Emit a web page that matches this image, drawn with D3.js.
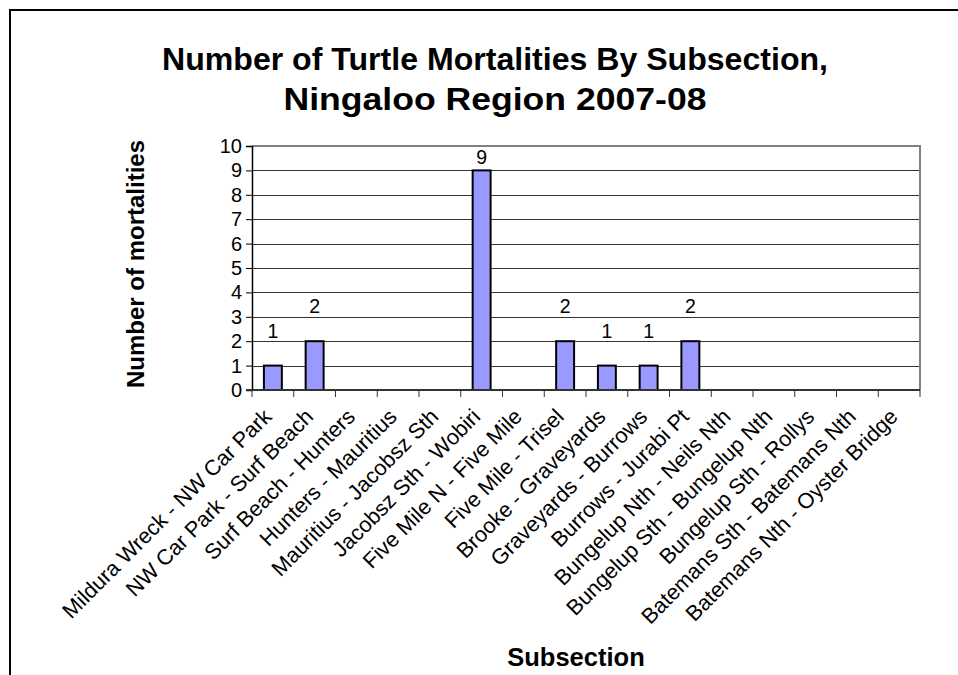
<!DOCTYPE html>
<html>
<head>
<meta charset="utf-8">
<script src="https://cdn.jsdelivr.net/npm/d3@7"></script>
<style>
  html, body { margin: 0; padding: 0; background: #fff; }
  svg { display: block; font-family: "Liberation Sans", Arial, sans-serif; }
</style>
</head>
<body>
<svg id="chart" width="958" height="675"></svg>
<script>
const categories = [
  "Mildura Wreck - NW Car Park",
  "NW Car Park - Surf Beach",
  "Surf Beach - Hunters",
  "Hunters - Mauritius",
  "Mauritius - Jacobsz Sth",
  "Jacobsz Sth - Wobiri",
  "Five Mile N - Five Mile",
  "Five Mile - Trisel",
  "Brooke - Graveyards",
  "Graveyards - Burrows",
  "Burrows - Jurabi Pt",
  "Bungelup Nth - Neils Nth",
  "Bungelup Sth - Bungelup Nth",
  "Bungelup Sth - Rollys",
  "Batemans Sth - Batemans Nth",
  "Batemans Nth - Oyster Bridge"
];
const mortalities = [1, 2, 0, 0, 0, 9, 0, 2, 1, 1, 2, 0, 0, 0, 0, 0];
const yTicks = [0, 1, 2, 3, 4, 5, 6, 7, 8, 9, 10];
const titleLines = ["Number of Turtle Mortalities By Subsection,", "Ningaloo Region 2007-08"];
const yTitle = "Number of mortalities";
const xTitle = "Subsection";

const svg = d3.select("#chart");
const pLeft = 252, pRight = 920, pTop = 146, pBottom = 390;

// outer frame
svg.append("rect").attr("x", 10).attr("y", 10).attr("width", 1000).attr("height", 1000)
  .attr("fill", "none").attr("stroke", "#000").attr("stroke-width", 2);

const x = d3.scaleBand().domain(categories).range([pLeft, pRight]).paddingInner(0.57).paddingOuter(0.285);
const xEdge = d3.scaleLinear().domain([0, categories.length]).range([pLeft, pRight]);
const y = d3.scaleLinear().domain([0, 10]).range([pBottom, pTop]);

// gridlines
svg.append("g").selectAll("line").data(yTicks.filter(d => d > 0 && d < 10)).join("line")
  .attr("x1", pLeft).attr("x2", pRight)
  .attr("y1", d => Math.round(y(d)) + 0.5).attr("y2", d => Math.round(y(d)) + 0.5)
  .attr("stroke", "#333").attr("stroke-width", 1);

// plot border top/right (gray)
svg.append("path")
  .attr("d", `M${pLeft},${pTop} H${pRight} V${pBottom}`)
  .attr("fill", "none").attr("stroke", "#808080").attr("stroke-width", 2);

const barData = categories.map((c, i) => ({c, v: mortalities[i]})).filter(d => d.v > 0);

// bars
svg.append("g").selectAll("rect").data(barData).join("rect")
  .attr("x", d => x(d.c)).attr("width", x.bandwidth())
  .attr("y", d => y(d.v)).attr("height", d => y(0) - y(d.v))
  .attr("fill", "#9999FF").attr("stroke", "#000").attr("stroke-width", 2);

// data labels
svg.append("g").selectAll("text").data(barData).join("text")
  .attr("x", d => x(d.c) + x.bandwidth() / 2)
  .attr("y", d => Math.max(y(d.v) - 28, pTop + 18))
  .attr("text-anchor", "middle").attr("font-size", 19.5).attr("fill", "#000")
  .text(d => d.v);

// y axis
const yAxis = d3.axisLeft(y).tickValues(yTicks).tickSize(6).tickPadding(4);
const gy = svg.append("g").attr("transform", `translate(${pLeft},0)`).call(yAxis);
gy.select(".domain").attr("stroke", "#000").attr("stroke-width", 1.5);
gy.selectAll(".tick line").attr("stroke", "#000");
gy.selectAll(".tick text").attr("font-size", 20).attr("fill", "#000")
  .attr("font-family", "Liberation Sans, Arial, sans-serif");

// x axis
const xAxisG = svg.append("g");
xAxisG.append("line").attr("x1", pLeft - 6).attr("x2", pRight).attr("y1", pBottom).attr("y2", pBottom)
  .attr("stroke", "#333").attr("stroke-width", 2);
xAxisG.selectAll("line.t").data(d3.range(categories.length + 1)).join("line").attr("class", "t")
  .attr("x1", d => xEdge(d)).attr("x2", d => xEdge(d))
  .attr("y1", pBottom).attr("y2", pBottom + 7)
  .attr("stroke", "#333").attr("stroke-width", 1);
xAxisG.selectAll("text").data(categories).join("text")
  .attr("transform", d => `translate(${x(d) + x.bandwidth() / 2},${pBottom + 28}) rotate(-45)`)
  .attr("text-anchor", "end").attr("font-size", 21.7).attr("fill", "#000")
  .text(d => d);

// titles
const titleWidths = [666, 423];
svg.append("g").selectAll("text").data(titleLines).join("text")
  .attr("x", 495).attr("y", (d, i) => 70 + i * 40)
  .attr("text-anchor", "middle").attr("font-size", 32).attr("font-weight", "bold")
  .attr("textLength", (d, i) => titleWidths[i]).attr("lengthAdjust", "spacingAndGlyphs")
  .text(d => d);

svg.append("text")
  .attr("transform", `translate(144,${(pTop + pBottom) / 2 - 4}) rotate(-90)`)
  .attr("text-anchor", "middle").attr("font-size", 24).attr("font-weight", "bold")
  .text(yTitle);

svg.append("text")
  .attr("x", 576).attr("y", 666)
  .attr("text-anchor", "middle").attr("font-size", 25.5).attr("font-weight", "bold")
  .text(xTitle);
</script>
</body>
</html>
